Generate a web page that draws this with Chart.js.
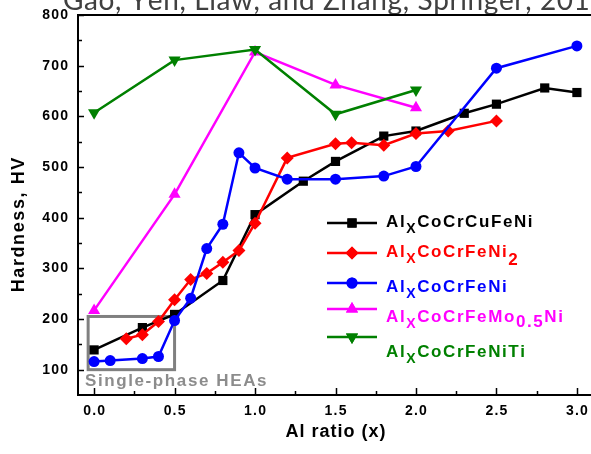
<!DOCTYPE html>
<html>
<head>
<meta charset="utf-8">
<script src="https://cdn.jsdelivr.net/npm/chart.js@4.4.1/dist/chart.umd.min.js"></script>
<style>
  html, body { margin: 0; padding: 0; background: #ffffff; overflow: hidden; }
  #wrap { width: 600px; height: 454px; }
</style>
</head>
<body>
<div id="wrap"><canvas id="c" width="600" height="454"></canvas></div>
<script>
// Hardness (HV) of Al-containing high-entropy alloys versus Al ratio x
const cuX  = [0, 0.3, 0.5, 0.8, 1.0, 1.3, 1.5, 1.8, 2.0, 2.3, 2.5, 2.8, 3.0];
const cuHV = [139, 183, 209, 276, 406, 472, 511, 561, 571, 606, 624, 656, 647];

const ni2X  = [0.2, 0.3, 0.4, 0.5, 0.6, 0.7, 0.8, 0.9, 1.0, 1.2, 1.5, 1.6, 1.8, 2.0, 2.2, 2.5];
const ni2HV = [161, 169, 195, 238, 278, 290, 312, 335, 389, 518, 546, 548, 543, 566, 571, 591];

const niX  = [0, 0.1, 0.3, 0.4, 0.5, 0.6, 0.7, 0.8, 0.9, 1.0, 1.2, 1.5, 1.8, 2.0, 2.5, 3.0];
const niHV = [116, 118, 122, 126, 197, 241, 339, 387, 528, 498, 476, 476, 482, 501, 695, 739];

const moX  = [0, 0.5, 1.0, 1.5, 2.0];
const moHV = [217, 446, 727, 662, 617];

const tiX  = [0, 0.5, 1.0, 1.5, 2.0];
const tiHV = [607, 711, 732, 604, 652];

const xTicks = [0.0, 0.5, 1.0, 1.5, 2.0, 2.5, 3.0];
const yTicks = [100, 200, 300, 400, 500, 600, 700, 800];

// Legend entries: [base, subscript, rest, subscript2, tail]
const legendParts = [
  ['Al', 'X', 'CoCrCuFeNi', '', ''],
  ['Al', 'X', 'CoCrFeNi', '2', ''],
  ['Al', 'X', 'CoCrFeNi', '', ''],
  ['Al', 'X', 'CoCrFeMo', '0.5', 'Ni'],
  ['Al', 'X', 'CoCrFeNiTi', '', '']
];

const toPts = (xs, ys) => xs.map((x, i) => ({ x: x, y: ys[i] }));

const BOLD = '"Liberation Sans", Arial, sans-serif';

// width of a string drawn with extra spacing between characters
function spacedWidth(ctx, text, sp) {
  let w = 0;
  for (const ch of text) w += ctx.measureText(ch).width;
  return w + sp * Math.max(0, text.length - 1);
}
// draw a string character by character with extra spacing; returns end x
function drawSpaced(ctx, text, x, y, sp, align) {
  const w = spacedWidth(ctx, text, sp);
  let cx = x;
  if (align === 'center') cx = x - w / 2;
  else if (align === 'right') cx = x - w;
  const saved = ctx.textAlign;
  ctx.textAlign = 'left';
  for (const ch of text) {
    ctx.fillText(ch, cx, y);
    cx += ctx.measureText(ch).width + sp;
  }
  ctx.textAlign = saved;
  return cx - sp;
}

function series(label, xs, ys, color, style, radius, rotation, order) {
  return {
    label: label,
    data: toPts(xs, ys),
    borderColor: color,
    backgroundColor: color,
    borderWidth: 2.5,
    pointStyle: style,
    pointRadius: radius,
    pointRotation: rotation,
    pointBorderWidth: 0,
    pointBackgroundColor: color,
    tension: 0,
    order: order
  };
}

const datasets = [
  series('AlxCoCrCuFeNi', cuX, cuHV, '#000000', 'rect', 6.5, 0, 4),
  series('AlxCoCrFeNi2', ni2X, ni2HV, '#ff0000', 'rectRot', 6.5, 0, 3),
  series('AlxCoCrFeNi', niX, niHV, '#0000ff', 'circle', 5.5, 0, 2),
  series('AlxCoCrFeMo0.5Ni', moX, moHV, '#ff00ff', 'triangle', 7, 0, 1),
  series('AlxCoCrFeNiTi', tiX, tiHV, '#008000', 'triangle', 7, 180, 0)
];

// Citation line across the top, frame, inward ticks, labels, box and legend
const decor = {
  id: 'decor',
  beforeDraw(chart) {
    const ctx = chart.ctx;
    ctx.save();
    ctx.fillStyle = '#404040';
    ctx.font = '28px Lato, "Open Sans", sans-serif';
    ctx.textBaseline = 'alphabetic';
    drawSpaced(ctx, 'Gao, Yeh, Liaw, and Zhang, Springer, 2016', 63, 10, 0.6, 'left');
    ctx.restore();
  },
  beforeDatasetsDraw(chart) {
    const ctx = chart.ctx, xs = chart.scales.x, ys = chart.scales.y;
    const l = xs.getPixelForValue(-0.037), r = xs.getPixelForValue(0.5);
    const t = ys.getPixelForValue(205), b = ys.getPixelForValue(100);
    ctx.save();
    ctx.strokeStyle = '#808080';
    ctx.lineWidth = 3;
    ctx.strokeRect(l, t, r - l, b - t);
    ctx.restore();
  },
  afterDraw(chart) {
    const ctx = chart.ctx, a = chart.chartArea, xs = chart.scales.x, ys = chart.scales.y;
    ctx.save();
    ctx.strokeStyle = '#000000';
    ctx.lineWidth = 2;
    ctx.strokeRect(a.left, a.top, a.right - a.left, a.bottom - a.top);
    ctx.lineWidth = 1.5;
    ctx.beginPath();
    for (let v = 0; v <= 3.001; v += 0.25) {
      const p = Math.round(xs.getPixelForValue(v)) + 0.5;
      const major = Math.abs(v * 2 - Math.round(v * 2)) < 1e-6;
      ctx.moveTo(p, a.bottom);
      ctx.lineTo(p, a.bottom - (major ? 7 : 4));
    }
    for (let v = 100; v <= 800; v += 50) {
      const p = Math.round(ys.getPixelForValue(v)) + 0.5;
      const major = v % 100 === 0;
      ctx.moveTo(a.left, p);
      ctx.lineTo(a.left + (major ? 6 : 4), p);
    }
    ctx.stroke();

    // tick labels
    ctx.fillStyle = '#000000';
    ctx.font = 'bold 14px ' + BOLD;
    ctx.textBaseline = 'middle';
    xTicks.forEach(v => drawSpaced(ctx, v.toFixed(1), xs.getPixelForValue(v), 411, 1.2, 'center'));
    yTicks.forEach(v => drawSpaced(ctx, String(v), a.left - 10, ys.getPixelForValue(v), 1.2, 'right'));

    // axis titles
    ctx.font = 'bold 18px ' + BOLD;
    drawSpaced(ctx, 'Al ratio (x)', (a.left + a.right) / 2, 432, 1.0, 'center');
    ctx.save();
    ctx.translate(19, 225);
    ctx.rotate(-Math.PI / 2);
    drawSpaced(ctx, 'Hardness, HV', 0, 0, 1.6, 'center');
    ctx.restore();

    // box caption
    ctx.fillStyle = '#8c8c8c';
    ctx.font = 'bold 17px ' + BOLD;
    ctx.textBaseline = 'alphabetic';
    drawSpaced(ctx, 'Single-phase HEAs', 85, 386, 1.6, 'left');

    // legend
    const rowsY = [223, 253, 283, 309, 337];
    const baseY = [227, 257, 292, 322, 357];
    const x0 = 327, x1 = 377, tx = 386, sp = 1.6;
    chart.data.datasets.forEach((ds, i) => {
      const y = rowsY[i];
      ctx.strokeStyle = ds.borderColor;
      ctx.lineWidth = 2.5;
      ctx.beginPath();
      ctx.moveTo(x0, y);
      ctx.lineTo(x1, y);
      ctx.stroke();
      ctx.fillStyle = ds.borderColor;
      Chart.helpers.drawPoint(ctx, {
        pointStyle: ds.pointStyle, rotation: ds.pointRotation,
        radius: ds.pointRadius, borderWidth: 0
      }, (x0 + x1) / 2, y);
      ctx.fill();

      const parts = legendParts[i];
      const by = baseY[i];
      let cx = tx;
      ctx.font = 'bold 17px ' + BOLD;
      cx = drawSpaced(ctx, parts[0], cx, by, sp, 'left') + sp;
      ctx.font = 'bold 14px ' + BOLD;
      cx = drawSpaced(ctx, parts[1], cx, by + 6, sp, 'left') + sp;
      ctx.font = 'bold 17px ' + BOLD;
      cx = drawSpaced(ctx, parts[2], cx, by, sp, 'left') + sp;
      if (parts[3]) {
        cx = drawSpaced(ctx, parts[3], cx, by + (parts[4] ? 5 : 8), sp, 'left') + sp;
      }
      if (parts[4]) {
        drawSpaced(ctx, parts[4], cx, by, sp, 'left');
      }
    });
    ctx.restore();
  }
};

new Chart(document.getElementById('c'), {
  type: 'line',
  data: { datasets: datasets },
  plugins: [decor],
  options: {
    responsive: false,
    animation: false,
    layout: { padding: { top: 15, right: 6, left: 0, bottom: 0 } },
    plugins: { legend: { display: false }, tooltip: { enabled: false } },
    scales: {
      x: {
        type: 'linear',
        min: -0.1,
        max: 3.1,
        border: { display: false },
        grid: { display: false, drawTicks: false },
        ticks: { display: false },
        afterBuildTicks: (s) => { s.ticks = xTicks.map(v => ({ value: v })); },
        afterFit: (s) => { s.height = 59; }
      },
      y: {
        type: 'linear',
        min: 50,
        max: 800,
        border: { display: false },
        grid: { display: false, drawTicks: false },
        ticks: { display: false },
        afterBuildTicks: (s) => { s.ticks = yTicks.map(v => ({ value: v })); },
        afterFit: (s) => { s.width = 78; }
      }
    }
  }
});
</script>
</body>
</html>
